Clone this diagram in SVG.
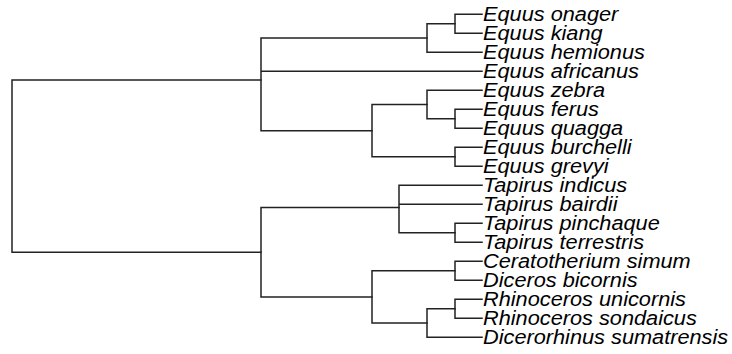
<svg xmlns="http://www.w3.org/2000/svg" width="732" height="354" viewBox="0 0 732 354">
<style>
.e{fill:none;stroke:#222;stroke-width:1.5;stroke-linecap:square}
.t{font-family:"Liberation Sans",Arial,sans-serif;font-style:italic;font-size:19.5px;fill:#000}
</style>
<rect width="732" height="354" fill="#fff"/>
<g id="connectors">
<path class="e" d="M12,80 V252.2 M12,80 H261 M12,252.2 H261"/>
<path class="e" d="M261,38.05 V130.7 M261,38.05 H427 M261,71.3 H482 M261,130.7 H372"/>
<path class="e" d="M427,23.8 V52.3 M427,23.8 H455 M427,52.3 H482"/>
<path class="e" d="M455,14.3 V33.3 M455,14.3 H482 M455,33.3 H482"/>
<path class="e" d="M372,104.55 V156.8 M372,104.55 H427 M372,156.8 H455"/>
<path class="e" d="M427,90.3 V118.8 M427,90.3 H482 M427,118.8 H455"/>
<path class="e" d="M455,109.3 V128.3 M455,109.3 H482 M455,128.3 H482"/>
<path class="e" d="M455,147.3 V166.3 M455,147.3 H482 M455,166.3 H482"/>
<path class="e" d="M261,207.5 V296.9 M261,207.5 H399 M261,296.9 H372"/>
<path class="e" d="M399,185.3 V232.8 M399,185.3 H482 M399,204.3 H482 M399,232.8 H455"/>
<path class="e" d="M455,223.3 V242.3 M455,223.3 H482 M455,242.3 H482"/>
<path class="e" d="M372,270.8 V323.05 M372,270.8 H455 M372,323.05 H427"/>
<path class="e" d="M455,261.3 V280.3 M455,261.3 H482 M455,280.3 H482"/>
<path class="e" d="M427,308.8 V337.3 M427,308.8 H455 M427,337.3 H482"/>
<path class="e" d="M455,299.3 V318.3 M455,299.3 H482 M455,318.3 H482"/>
</g>
<g id="tip1"><text class="t" transform="translate(483,21.3) scale(1.115,1)">Equus onager</text></g>
<g id="tip2"><text class="t" transform="translate(483,40.3) scale(1.115,1)">Equus kiang</text></g>
<g id="tip3"><text class="t" transform="translate(483,59.3) scale(1.115,1)">Equus hemionus</text></g>
<g id="tip4"><text class="t" transform="translate(483,78.3) scale(1.115,1)">Equus africanus</text></g>
<g id="tip5"><text class="t" transform="translate(483,97.3) scale(1.115,1)">Equus zebra</text></g>
<g id="tip6"><text class="t" transform="translate(483,116.3) scale(1.115,1)">Equus ferus</text></g>
<g id="tip7"><text class="t" transform="translate(483,135.3) scale(1.115,1)">Equus quagga</text></g>
<g id="tip8"><text class="t" transform="translate(483,154.3) scale(1.115,1)">Equus burchelli</text></g>
<g id="tip9"><text class="t" transform="translate(483,173.3) scale(1.115,1)">Equus grevyi</text></g>
<g id="tip10"><text class="t" transform="translate(483,192.3) scale(1.115,1)">Tapirus indicus</text></g>
<g id="tip11"><text class="t" transform="translate(483,211.3) scale(1.115,1)">Tapirus bairdii</text></g>
<g id="tip12"><text class="t" transform="translate(483,230.3) scale(1.115,1)">Tapirus pinchaque</text></g>
<g id="tip13"><text class="t" transform="translate(483,249.3) scale(1.115,1)">Tapirus terrestris</text></g>
<g id="tip14"><text class="t" transform="translate(483,268.3) scale(1.115,1)">Ceratotherium simum</text></g>
<g id="tip15"><text class="t" transform="translate(483,287.3) scale(1.115,1)">Diceros bicornis</text></g>
<g id="tip16"><text class="t" transform="translate(483,306.3) scale(1.115,1)">Rhinoceros unicornis</text></g>
<g id="tip17"><text class="t" transform="translate(483,325.3) scale(1.115,1)">Rhinoceros sondaicus</text></g>
<g id="tip18"><text class="t" transform="translate(483,344.3) scale(1.115,1)">Dicerorhinus sumatrensis</text></g>
</svg>
